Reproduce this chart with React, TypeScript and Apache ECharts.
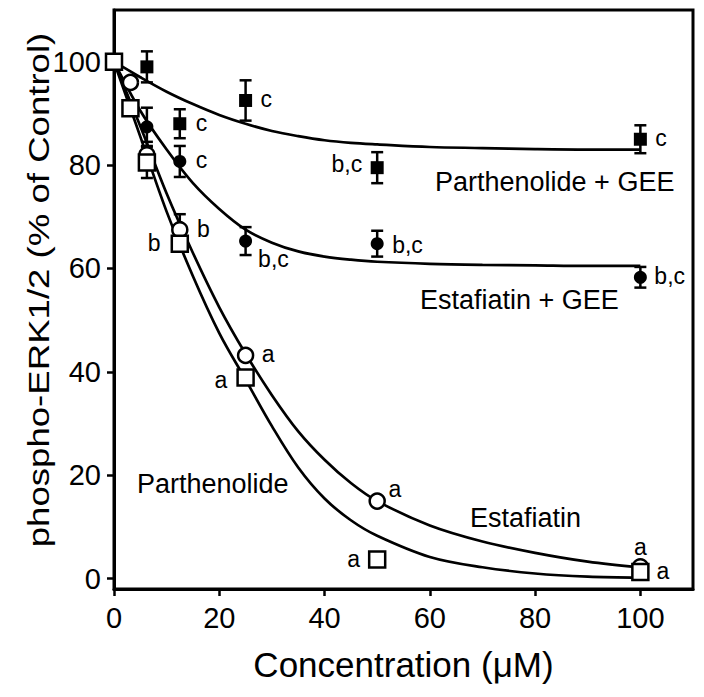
import React, { useEffect, useRef } from 'react';
import * as echarts from 'echarts';

// ---- tick values ----
const xTicks = [0, 20, 40, 60, 80, 100];
const yTicks = [0, 20, 40, 60, 80, 100];

// ---- Parthenolide + GEE (filled squares) ----
const pgeeX = [6.25, 12.5, 25, 50, 100];
const pgeeY = [99, 88, 92.5, 79.5, 85];
const pgeeErr = [3, 2.8, 3.9, 3, 2.7];
const pgeeSig = ['', 'c', 'c', 'b,c', 'c'];

// ---- Estafiatin + GEE (filled circles) ----
const egeeX = [6.25, 12.5, 25, 50, 100];
const egeeY = [87.4, 80.7, 65.3, 64.8, 58.3];
const egeeErr = [3.7, 3, 2.7, 2.5, 2];
const egeeSig = ['', 'c', 'b,c', 'b,c', 'b,c'];

// ---- Estafiatin (open circles) ----
const estX = [3.125, 6.25, 12.5, 25, 50, 100];
const estY = [96, 82, 67.5, 43.2, 15, 2.3];
const estErr = [0, 2.5, 3, 0, 0, 0];
const estSig = ['', '', 'b', 'a', 'a', 'a'];

// ---- Parthenolide (open squares) ----
const parX = [0, 3.125, 6.25, 12.5, 25, 50, 100];
const parY = [100, 91, 80.5, 64.8, 38.9, 3.7, 1.3];
const parErr = [0, 0, 3, 0, 0, 0, 0];
const parSig = ['', '', '', 'b', 'a', 'a', 'a'];

// ---- fitted curves ----
const fitX = [0, 5, 10, 15, 20, 25, 30, 35, 40, 45, 50, 60, 70, 80, 90, 100];
const pgeeFit = [100, 97, 94.2, 91.8, 89.7, 88, 86.6, 85.6, 84.8, 84.3, 84, 83.5, 83.3, 83.1, 83, 83];
const egeeFit = [100, 90.5, 83, 76.5, 71.5, 67.5, 65, 63.3, 62.3, 61.7, 61.3, 60.9, 60.7, 60.6, 60.5, 60.5];
const estFit = [100, 87.5, 74.5, 63, 52.5, 43.5, 35.5, 28.5, 23, 18.5, 15, 10.3, 7.2, 5, 3.3, 2.2];
const parFit = [100, 85.5, 71, 58.5, 47.5, 38.5, 29.5, 21.5, 15.5, 11.3, 8.3, 4.2, 2.2, 1, 0.4, 0.2];

// ---- text ----
const xTitle = 'Concentration (\u03bcM)';
const yTitle = 'phospho-ERK1/2 (% of Control)';
const curveNames = ['Parthenolide + GEE', 'Estafiatin + GEE', 'Parthenolide', 'Estafiatin'];

const FONT = '"Liberation Sans", Arial, Helvetica, sans-serif';

type Place = { position: any; distance: number; offset: number[] };
const R = (d: number, oy = -1): Place => ({ position: 'right', distance: d, offset: [0, oy] });
const L = (d: number, oy = -1): Place => ({ position: 'left', distance: d, offset: [0, oy] });
const T = (d: number): Place => ({ position: 'top', distance: d, offset: [0, 0] });

const pgeePlace = [R(9), R(9.5), R(8.5), L(8.5, -4), R(8.5)];
const egeePlace = [R(9), R(9.5), R(6, 18), R(8.5, 1), R(7.5)];
const estPlace = [R(8), R(8), R(8.5), R(7.5), R(2.5, -12), T(0)];
const parPlace = [L(9), L(9), L(9), L(10), L(9, 2), L(8), R(7)];

function points(xs: number[], ys: number[], sig: string[], place: Place[]) {
  return xs.map((x, i) => ({
    value: [x, ys[i]],
    label: sig[i]
      ? {
          show: true,
          formatter: sig[i],
          position: place[i].position,
          distance: place[i].distance,
          offset: place[i].offset,
          fontSize: 23,
          fontFamily: FONT,
          color: '#000',
          opacity: 1,
        }
      : { show: false },
  }));
}

function errBars(xs: number[], ys: number[], errs: number[]) {
  return {
    type: 'custom',
    z: 2,
    silent: true,
    encode: { x: 0, y: 1 },
    data: xs.map((x, i) => [x, ys[i], errs[i]]).filter((d) => d[2] > 0),
    renderItem: (_p: any, api: any) => {
      const x = api.value(0);
      const y = api.value(1);
      const e = api.value(2);
      const top = api.coord([x, y + e]);
      const bot = api.coord([x, y - e]);
      const w = 6;
      const style = { stroke: '#000', lineWidth: 2.5, fill: 'none' };
      return {
        type: 'group',
        children: [
          { type: 'line', shape: { x1: top[0], y1: top[1], x2: bot[0], y2: bot[1] }, style },
          { type: 'line', shape: { x1: top[0] - w, y1: top[1], x2: top[0] + w, y2: top[1] }, style },
          { type: 'line', shape: { x1: bot[0] - w, y1: bot[1], x2: bot[0] + w, y2: bot[1] }, style },
        ],
      };
    },
  };
}

function fitLine(ys: number[]) {
  return {
    type: 'line',
    z: 1,
    silent: true,
    showSymbol: false,
    smooth: 0.35,
    data: fitX.map((x, i) => [x, ys[i]]),
    lineStyle: { color: '#000', width: 2.7, opacity: 1 },
  };
}

export default function App() {
  const ref = useRef<HTMLDivElement>(null);
  useEffect(() => {
    const chart = echarts.init(ref.current!, null, { renderer: 'svg' });
    const axisCommon = {
      type: 'value',
      splitLine: { show: false },
      axisLine: { show: true, onZero: false, lineStyle: { color: '#000', width: 3 } },
    };
    const option: any = {
      animation: false,
      backgroundColor: '#fff',
      grid: {
        left: 114,
        right: 11,
        top: 10,
        bottom: 108,
        show: true,
        borderColor: '#000',
        borderWidth: 3,
        backgroundColor: 'transparent',
      },
      xAxis: {
        ...axisCommon,
        min: 0,
        max: 110,
        axisTick: { show: true, length: 7, lineStyle: { color: '#000', width: 2.5 }, customValues: xTicks },
        axisLabel: { customValues: xTicks, fontSize: 29, fontFamily: FONT, color: '#000', margin: 14 },
        name: xTitle,
        nameLocation: 'middle',
        nameGap: 58,
        nameTextStyle: { fontSize: 35, fontFamily: FONT, color: '#000' },
      },
      yAxis: {
        ...axisCommon,
        min: -2,
        max: 110,
        axisTick: { show: true, length: 7, lineStyle: { color: '#000', width: 2.5 }, customValues: yTicks },
        axisLabel: { customValues: yTicks, fontSize: 29, fontFamily: FONT, color: '#000', margin: 13 },
      },
      graphic: [
        {
          type: 'text',
          x: 39,
          y: 290,
          rotation: Math.PI / 2,
          scaleX: 1.22,
          style: {
            text: yTitle,
            font: `30px ${FONT}`,
            fill: '#000',
            textAlign: 'center',
            textVerticalAlign: 'middle',
          },
        },
        { type: 'text', x: 435, y: 182, style: { text: curveNames[0], font: `27px ${FONT}`, fill: '#000', textVerticalAlign: 'middle' } },
        { type: 'text', x: 420, y: 300, style: { text: curveNames[1], font: `27px ${FONT}`, fill: '#000', textVerticalAlign: 'middle' } },
        { type: 'text', x: 137, y: 484, style: { text: curveNames[2], font: `27px ${FONT}`, fill: '#000', textVerticalAlign: 'middle' } },
        { type: 'text', x: 470, y: 518, style: { text: curveNames[3], font: `27px ${FONT}`, fill: '#000', textVerticalAlign: 'middle' } },
      ],
      series: [
        fitLine(pgeeFit),
        fitLine(egeeFit),
        fitLine(estFit),
        fitLine(parFit),
        errBars(pgeeX, pgeeY, pgeeErr),
        errBars(egeeX, egeeY, egeeErr),
        errBars(estX, estY, estErr),
        errBars(parX, parY, parErr),
        {
          type: 'scatter',
          z: 3,
          symbol: 'rect',
          symbolSize: 13,
          itemStyle: { color: '#000', opacity: 1 },
          data: points(pgeeX, pgeeY, pgeeSig, pgeePlace),
        },
        {
          type: 'scatter',
          z: 3,
          symbol: 'circle',
          symbolSize: 13,
          itemStyle: { color: '#000', opacity: 1 },
          data: points(egeeX, egeeY, egeeSig, egeePlace),
        },
        {
          type: 'scatter',
          z: 4,
          symbol: 'circle',
          symbolSize: 15,
          itemStyle: { color: '#fff', borderColor: '#000', borderWidth: 2.5, opacity: 1 },
          data: points(estX, estY, estSig, estPlace),
        },
        {
          type: 'scatter',
          z: 5,
          symbol: 'rect',
          symbolSize: 16,
          itemStyle: { color: '#fff', borderColor: '#000', borderWidth: 2.5, opacity: 1 },
          data: points(parX, parY, parSig, parPlace),
        },
      ],
    };
    chart.setOption(option);
    return () => chart.dispose();
  }, []);
  return <div ref={ref} style={{ position: 'absolute', left: 0, top: 0, width: 704, height: 697 }} />;
}
